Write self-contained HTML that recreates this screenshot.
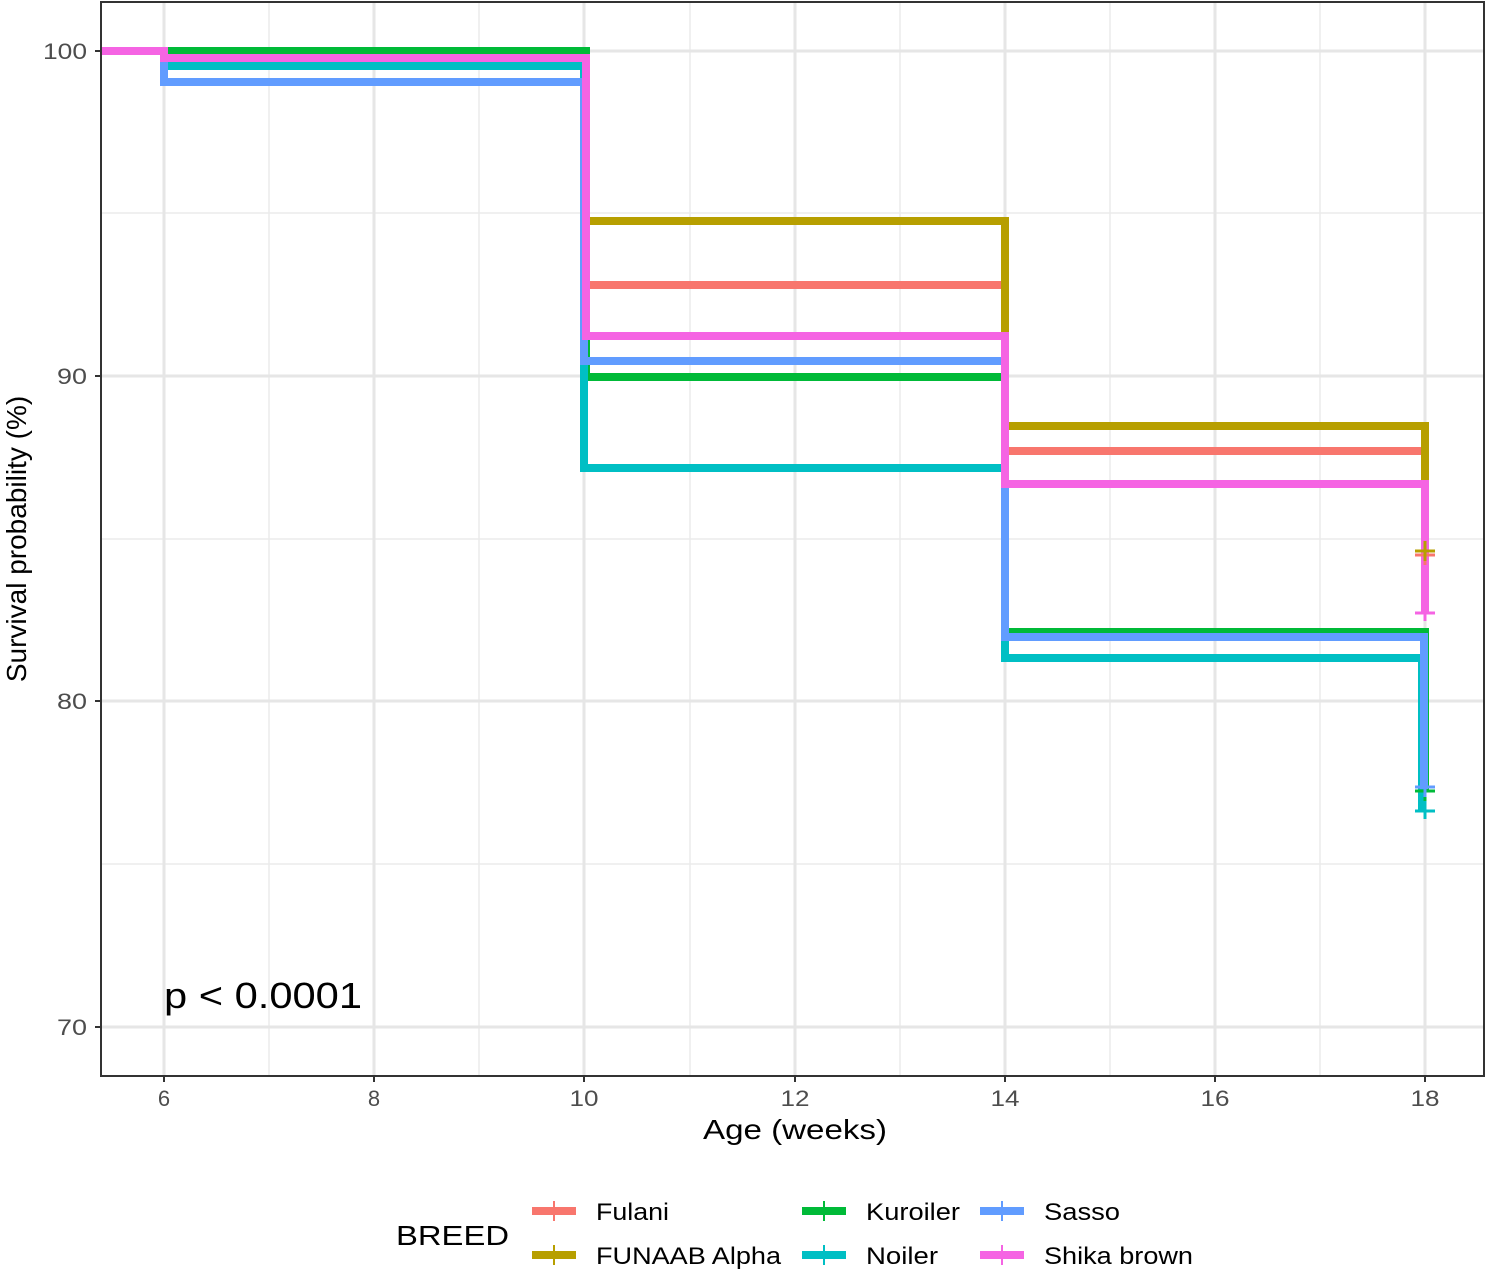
<!DOCTYPE html>
<html><head><style>body{margin:0;background:#fff}svg{display:block}</style></head><body>
<svg width="1490" height="1270" xmlns="http://www.w3.org/2000/svg" font-family="Liberation Sans, sans-serif">
<rect width="1490" height="1270" fill="#fff"/>
<g stroke="#ebebeb" stroke-width="1.5">
<line x1="101" x2="1484" y1="213" y2="213"/><line x1="101" x2="1484" y1="539" y2="539"/><line x1="101" x2="1484" y1="864" y2="864"/>
<line x1="269" x2="269" y1="2" y2="1076"/><line x1="479" x2="479" y1="2" y2="1076"/><line x1="690" x2="690" y1="2" y2="1076"/><line x1="900" x2="900" y1="2" y2="1076"/><line x1="1110" x2="1110" y1="2" y2="1076"/><line x1="1320" x2="1320" y1="2" y2="1076"/>
</g>
<g stroke="#e6e6e6" stroke-width="3">
<line x1="101" x2="1484" y1="51" y2="51"/><line x1="101" x2="1484" y1="376" y2="376"/><line x1="101" x2="1484" y1="701" y2="701"/><line x1="101" x2="1484" y1="1027" y2="1027"/>
<line x1="164" x2="164" y1="2" y2="1076"/><line x1="374" x2="374" y1="2" y2="1076"/><line x1="584" x2="584" y1="2" y2="1076"/><line x1="795" x2="795" y1="2" y2="1076"/><line x1="1005" x2="1005" y1="2" y2="1076"/><line x1="1215" x2="1215" y1="2" y2="1076"/><line x1="1425" x2="1425" y1="2" y2="1076"/>
</g>
<g fill="none" stroke-width="8" stroke-linejoin="miter">
<path stroke="#f8766d" d="M101 51H584V285H1005V451H1425V553"/>
<path stroke="#b79f00" d="M101 51H584V221H1005V426H1425V551"/>
<path stroke="#00ba38" d="M101 51H586V377H1005V632H1425V790"/>
<path stroke="#00bfc4" d="M101 51H164V66H584V468H1005V658H1422V811"/>
<path stroke="#619cff" d="M101 51H164V82H584V361H1005V637H1424V789"/>
<path stroke="#f564e3" d="M101 51H164V58H586V336H1005V484H1425V613"/>
</g>
<g stroke-width="3">
<path stroke="#f8766d" d="M1415 555H1435M1425 545V565"/>
<path stroke="#b79f00" d="M1415 551H1435M1425 541V561"/>
<path stroke="#f564e3" d="M1415 613H1435M1425 603V621"/>
<path stroke="#00ba38" d="M1415 791H1435M1425 781V801"/>
<path stroke="#619cff" d="M1415 787H1435M1425 777V797"/>
<path stroke="#00bfc4" d="M1415 811H1435M1425 801V819"/>
</g>
<rect x="101" y="2" width="1383" height="1074" fill="none" stroke="#333" stroke-width="2"/>
<g stroke="#333" stroke-width="2">
<line x1="95" x2="101" y1="51" y2="51"/><line x1="95" x2="101" y1="376" y2="376"/><line x1="95" x2="101" y1="701" y2="701"/><line x1="95" x2="101" y1="1027" y2="1027"/>
<line x1="164" x2="164" y1="1076" y2="1082"/><line x1="374" x2="374" y1="1076" y2="1082"/><line x1="584" x2="584" y1="1076" y2="1082"/><line x1="795" x2="795" y1="1076" y2="1082"/><line x1="1005" x2="1005" y1="1076" y2="1082"/><line x1="1215" x2="1215" y1="1076" y2="1082"/><line x1="1425" x2="1425" y1="1076" y2="1082"/>
</g>
<g fill="#4d4d4d" font-size="22" text-anchor="end" lengthAdjust="spacingAndGlyphs">
<text x="87" y="59" textLength="44" lengthAdjust="spacingAndGlyphs">100</text><text x="87" y="384" textLength="30" lengthAdjust="spacingAndGlyphs">90</text><text x="87" y="709" textLength="30" lengthAdjust="spacingAndGlyphs">80</text><text x="87" y="1035" textLength="30" lengthAdjust="spacingAndGlyphs">70</text>
</g>
<g fill="#4d4d4d" font-size="22" text-anchor="middle">
<text x="164" y="1106">6</text><text x="374" y="1106">8</text><text x="584" y="1106" textLength="29" lengthAdjust="spacingAndGlyphs">10</text><text x="795" y="1106" textLength="29" lengthAdjust="spacingAndGlyphs">12</text><text x="1005" y="1106" textLength="29" lengthAdjust="spacingAndGlyphs">14</text><text x="1215" y="1106" textLength="29" lengthAdjust="spacingAndGlyphs">16</text><text x="1425" y="1106" textLength="29" lengthAdjust="spacingAndGlyphs">18</text>
</g>
<text x="703" y="1139" font-size="28" textLength="184" lengthAdjust="spacingAndGlyphs">Age (weeks)</text>
<text transform="translate(26,539) rotate(-90)" font-size="28" text-anchor="middle">Survival probability (%)</text>
<text x="164" y="1008" font-size="36" textLength="198" lengthAdjust="spacingAndGlyphs">p &lt; 0.0001</text>
<text x="396" y="1245" font-size="28" textLength="113" lengthAdjust="spacingAndGlyphs">BREED</text>
<g stroke-width="8">
<line x1="532" x2="576" y1="1211" y2="1211" stroke="#f8766d"/>
<line x1="532" x2="576" y1="1255" y2="1255" stroke="#b79f00"/>
<line x1="802" x2="846" y1="1211" y2="1211" stroke="#00ba38"/>
<line x1="802" x2="846" y1="1255" y2="1255" stroke="#00bfc4"/>
<line x1="980" x2="1024" y1="1211" y2="1211" stroke="#619cff"/>
<line x1="980" x2="1024" y1="1255" y2="1255" stroke="#f564e3"/>
</g>
<g stroke-width="2">
<line x1="554" x2="554" y1="1201" y2="1221" stroke="#f8766d"/>
<line x1="554" x2="554" y1="1245" y2="1265" stroke="#b79f00"/>
<line x1="824" x2="824" y1="1201" y2="1221" stroke="#00ba38"/>
<line x1="824" x2="824" y1="1245" y2="1265" stroke="#00bfc4"/>
<line x1="1002" x2="1002" y1="1201" y2="1221" stroke="#619cff"/>
<line x1="1002" x2="1002" y1="1245" y2="1265" stroke="#f564e3"/>
</g>
<g font-size="24">
<text x="596" y="1220" textLength="73" lengthAdjust="spacingAndGlyphs">Fulani</text><text x="596" y="1264" textLength="185" lengthAdjust="spacingAndGlyphs">FUNAAB Alpha</text>
<text x="866" y="1220" textLength="94" lengthAdjust="spacingAndGlyphs">Kuroiler</text><text x="866" y="1264" textLength="72" lengthAdjust="spacingAndGlyphs">Noiler</text>
<text x="1044" y="1220" textLength="76" lengthAdjust="spacingAndGlyphs">Sasso</text><text x="1044" y="1264" textLength="149" lengthAdjust="spacingAndGlyphs">Shika brown</text>
</g>
</svg>
</body></html>
